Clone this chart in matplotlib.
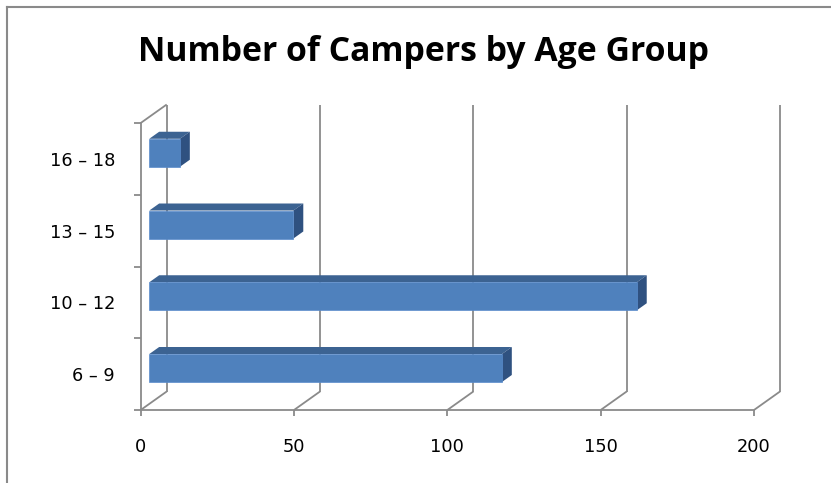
import matplotlib
matplotlib.use('Agg')
import matplotlib.pyplot as plt
from matplotlib.transforms import offset_copy, IdentityTransform
from matplotlib.patches import Polygon
from matplotlib.lines import Line2D

# ---- data ----
categories = ['6 – 9', '10 – 12', '13 – 15', '16 – 18']
values = [115, 159, 47, 10]
x_ticks = [0, 50, 100, 150, 200]
title = 'Number of Campers by Age Group'

# ---- style ----
W, H = 831, 483
GRAY = '#8a8a8a'
FRONT = '#4F81BD'
TOP = '#3C6392'
SIDE = '#2F5180'
DX, DY = 26, 18.5          # depth of the 3-D box in pixels
D0, D1 = 0.33, 0.71        # depth range occupied by the bars
BAR_H = 0.39

fig = plt.figure(figsize=(W / 100, H / 100), dpi=100)
ax = fig.add_axes([140.7 / W, 1 - 410 / H, (754 - 140.7) / W, (410 - 123) / H])
ax.set_xlim(0, 200)
ax.set_ylim(-0.5, 3.5)


def to_px(x, y, d):
    px, py = ax.transData.transform((x, y))
    return (px + DX * d, py + DY * d)


def add_line(p, q, z=1):
    ln = Line2D([p[0], q[0]], [p[1], q[1]], transform=IdentityTransform(),
                color=GRAY, lw=1.3, zorder=z, clip_on=False,
                solid_capstyle='butt')
    ax.add_line(ln)


# back wall gridlines and floor diagonals
for x in x_ticks:
    add_line(to_px(x, -0.5, 1), to_px(x, 3.5, 1))
    add_line(to_px(x, -0.5, 0), to_px(x, -0.5, 1))
# left wall top edge
add_line(to_px(0, 3.5, 0), to_px(0, 3.5, 1))

# bars
ypos = list(range(len(categories)))
front_tr = offset_copy(ax.transData, fig=fig, x=DX * D0, y=DY * D0, units='dots')
ax.barh(ypos, values, height=BAR_H, left=0, color=FRONT, transform=front_tr,
        zorder=4, edgecolor='#5a8ccc', linewidth=0.5)
h = BAR_H / 2
for i, v in zip(ypos, values):
    top = [to_px(0, i + h, D0), to_px(v, i + h, D0), to_px(v, i + h, D1), to_px(0, i + h, D1)]
    side = [to_px(v, i - h, D0), to_px(v, i + h, D0), to_px(v, i + h, D1), to_px(v, i - h, D1)]
    ax.add_patch(Polygon(top, closed=True, transform=IdentityTransform(),
                         facecolor=TOP, edgecolor='none', zorder=3, clip_on=False))
    ax.add_patch(Polygon(side, closed=True, transform=IdentityTransform(),
                         facecolor=SIDE, edgecolor='none', zorder=3, clip_on=False))

ax.set_xlim(0, 200)
ax.set_ylim(-0.5, 3.5)

# axes / ticks
for s in ['top', 'right']:
    ax.spines[s].set_visible(False)
for s in ['left', 'bottom']:
    ax.spines[s].set_color(GRAY)
    ax.spines[s].set_linewidth(1.3)
ax.set_xticks(x_ticks)
ax.set_xticklabels([str(t) for t in x_ticks])
ax.set_yticks([-0.5, 0.5, 1.5, 2.5, 3.5])
ax.set_yticklabels([])
ax.set_yticks(ypos, minor=True)
ax.set_yticklabels(categories, minor=True)
ax.tick_params(axis='y', which='major', length=5.4, width=1.3, color=GRAY, direction='out')
ax.tick_params(axis='y', which='minor', length=0, pad=18.5, labelsize=12.8)
ax.tick_params(axis='x', length=4.3, width=1.3, color=GRAY, direction='out', pad=15.5,
               labelsize=12.8)

# title
fig.text(423 / W, 1 - 61 / H, title, ha='center', va='baseline',
         fontsize=24.3, fontweight='bold', family='Open Sans', color='black')

# chart border (cropped on right and bottom)
fig.add_artist(Line2D([7 / W, 7 / W], [0, 1 - 7 / H], transform=fig.transFigure,
                      color=GRAY, lw=1.5))
fig.add_artist(Line2D([7 / W, 1], [1 - 7 / H, 1 - 7 / H], transform=fig.transFigure,
                      color=GRAY, lw=1.5))

fig.savefig('out.png', dpi=100)
